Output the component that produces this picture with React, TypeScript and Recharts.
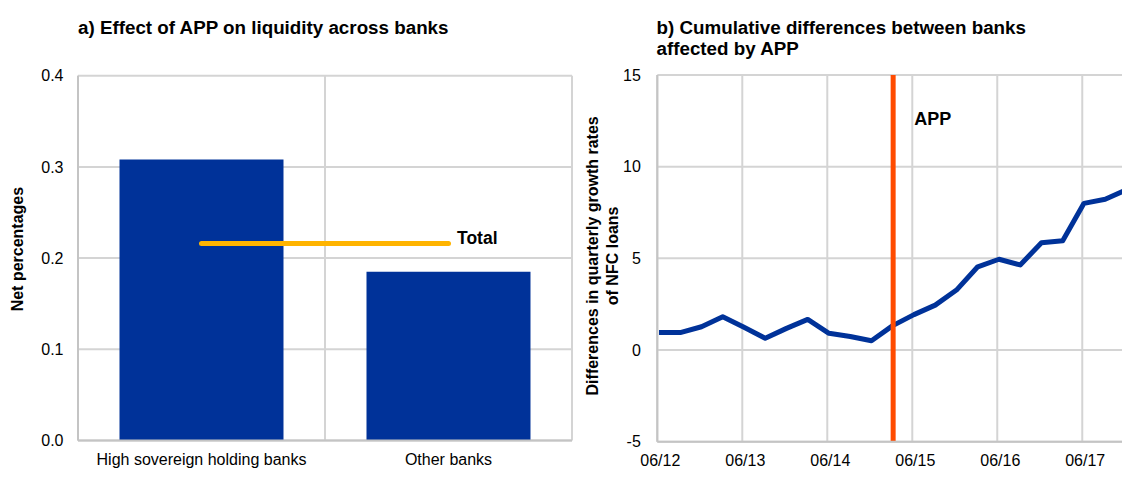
import React from 'react';
import {
  ComposedChart,
  LineChart,
  Bar,
  Line,
  XAxis,
  YAxis,
  CartesianGrid,
  ReferenceLine,
} from 'recharts';

const FONT = '"Liberation Sans", Arial, Helvetica, sans-serif';

// ---- Panel a) ----
const categories = ['High sovereign holding banks', 'Other banks'];
const netPercentages = [0.308, 0.185];
const totalValues = [0.216, 0.216];
const leftTicks = [0, 0.1, 0.2, 0.3, 0.4];

// ---- Panel b) ----
const quarters = [
  'Q2 2012', 'Q3 2012', 'Q4 2012', 'Q1 2013', 'Q2 2013', 'Q3 2013', 'Q4 2013',
  'Q1 2014', 'Q2 2014', 'Q3 2014', 'Q4 2014', 'Q1 2015', 'Q2 2015', 'Q3 2015',
  'Q4 2015', 'Q1 2016', 'Q2 2016', 'Q3 2016', 'Q4 2016', 'Q1 2017', 'Q2 2017',
  'Q3 2017', 'Q4 2017',
];
const cumulativeDiff = [
  0.96, 0.95, 1.27, 1.82, 1.24, 0.64, 1.18, 1.67, 0.91, 0.74, 0.51, 1.33,
  1.93, 2.45, 3.27, 4.54, 4.95, 4.64, 5.85, 5.96, 8.0, 8.22, 8.75,
];
const rightXTicks = [0, 4, 8, 12, 16, 20];
const rightXTickLabels = ['06/12', '06/13', '06/14', '06/15', '06/16', '06/17'];
const rightYTicks = [-5, 0, 5, 10, 15];
const appQuarter = 11.1;
const pointOffset = 0.08;

const BLUE = '#003299';
const YELLOW = '#FFB400';
const ORANGE = '#FF4B00';
const GRID = '#d4d4d4';
const AXIS = '#c4c4c4';

const leftData = categories.map((c, i) => ({
  category: c,
  value: netPercentages[i],
  total: totalValues[i],
}));

const rightData = quarters.map((q, i) => ({
  quarter: q,
  t: i + pointOffset,
  value: cumulativeDiff[i],
}));

const tickStyle = { fill: '#000', fontSize: 16, fontFamily: FONT };

const LeftYLabel = (props: any) => {
  const vb = props.viewBox || { x: 0, y: 0, width: 0, height: 0 };
  const x = vb.x + 5.4;
  const y = vb.y + vb.height / 2 - 9;
  return (
    <text
      x={x}
      y={y}
      transform={`rotate(-90, ${x}, ${y})`}
      textAnchor="middle"
      fontFamily={FONT}
      fontSize={16}
      fontWeight="bold"
      fill="#000"
    >
      Net percentages
    </text>
  );
};

const RightYLabel = (props: any) => {
  const vb = props.viewBox || { x: 0, y: 0, width: 0, height: 0 };
  const x1 = vb.x + 1.2;
  const x2 = vb.x + 20.7;
  const y = vb.y + vb.height / 2 - 2.5;
  return (
    <g>
      <text
        x={x1}
        y={y}
        transform={`rotate(-90, ${x1}, ${y})`}
        textAnchor="middle"
        fontFamily={FONT}
        fontSize={16}
        fontWeight="bold"
        fill="#000"
      >
        Differences in quarterly growth rates
      </text>
      <text
        x={x2}
        y={y}
        transform={`rotate(-90, ${x2}, ${y})`}
        textAnchor="middle"
        fontFamily={FONT}
        fontSize={16}
        fontWeight="bold"
        fill="#000"
      >
        of NFC loans
      </text>
    </g>
  );
};

const TotalLabel = (props: any) => {
  const { index } = props;
  if (index !== categories.length - 1) return <g />;
  const x = props.x ?? props.viewBox?.x;
  const y = props.y ?? props.viewBox?.y;
  return (
    <text
      x={x + 8.5}
      y={y}
      fontFamily={FONT}
      fontSize={17.5}
      fontWeight="bold"
      fill="#000"
    >
      Total
    </text>
  );
};

const AppLabel = (props: any) => {
  const vb = props.viewBox || { x: 0, y: 0 };
  return (
    <text
      x={vb.x + 21}
      y={vb.y + 50}
      fontFamily={FONT}
      fontSize={18}
      fontWeight="bold"
      fill="#000"
    >
      APP
    </text>
  );
};

const titleStyle: React.CSSProperties = {
  position: 'absolute',
  fontFamily: FONT,
  fontWeight: 'bold',
  fontSize: 18.8,
  lineHeight: '21px',
  color: '#000',
  whiteSpace: 'nowrap',
};

export default function App() {
  return (
    <div
      style={{
        position: 'absolute',
        left: 0,
        top: 0,
        width: 1122,
        height: 487,
        overflow: 'hidden',
        background: '#fff',
        fontFamily: FONT,
      }}
    >
      <div style={{ ...titleStyle, left: 78, top: 16.5 }}>
        a) Effect of APP on liquidity across banks
      </div>
      <div style={{ ...titleStyle, left: 656.5, top: 16.5 }}>
        b) Cumulative differences between banks
        <br />
        affected by APP
      </div>

      <div style={{ position: 'absolute', left: 0, top: 0 }}>
        <ComposedChart
          width={580}
          height={487}
          data={leftData}
          margin={{ top: 75.7, right: 8, bottom: 16.5, left: 18 }}
          barCategoryGap="16.8%"
        >
          <CartesianGrid
            stroke={GRID}
            strokeWidth={2}
            verticalCoordinatesGenerator={({ offset }: any) => [
              offset.left,
              offset.left + offset.width / 2,
              offset.left + offset.width,
            ]}
          />
          <XAxis
            dataKey="category"
            height={30}
            interval={0}
            tickLine={false}
            tickSize={0}
            tickMargin={13}
            axisLine={{ stroke: AXIS, strokeWidth: 2 }}
            tick={tickStyle}
          />
          <YAxis
            domain={[0, 0.4]}
            ticks={leftTicks}
            tickFormatter={(v: number) => v.toFixed(1)}
            width={60}
            tickLine={false}
            tickSize={0}
            tickMargin={14.5}
            axisLine={{ stroke: AXIS, strokeWidth: 2 }}
            tick={tickStyle}
            label={<LeftYLabel />}
          />
          <Bar dataKey="value" fill={BLUE} isAnimationActive={false} />
          <Line
            dataKey="total"
            type="linear"
            stroke={YELLOW}
            strokeWidth={5}
            strokeLinecap="round"
            dot={false}
            activeDot={false}
            isAnimationActive={false}
            label={<TotalLabel />}
          />
        </ComposedChart>
      </div>

      <div style={{ position: 'absolute', left: 580, top: 0 }}>
        <LineChart
          width={576}
          height={487}
          data={rightData}
          margin={{ top: 75, right: 10, bottom: 15.3, left: 17.3 }}
        >
          <CartesianGrid stroke={GRID} strokeWidth={2} />
          <XAxis
            type="number"
            dataKey="t"
            domain={[0, 23]}
            ticks={rightXTicks}
            tickFormatter={(v: number) => rightXTickLabels[rightXTicks.indexOf(v)]}
            allowDataOverflow
            height={30}
            tickLine={false}
            tickSize={0}
            tickMargin={13}
            axisLine={{ stroke: AXIS, strokeWidth: 2 }}
            tick={{ ...tickStyle, dx: 3 }}
          />
          <YAxis
            domain={[-5, 15]}
            ticks={rightYTicks}
            width={60}
            tickLine={false}
            tickSize={0}
            tickMargin={16.5}
            axisLine={{ stroke: AXIS, strokeWidth: 2 }}
            tick={tickStyle}
            label={<RightYLabel />}
          />
          <Line
            dataKey="value"
            type="linear"
            stroke={BLUE}
            strokeWidth={5}
            strokeLinejoin="round"
            dot={false}
            activeDot={false}
            isAnimationActive={false}
          />
          <ReferenceLine
            x={appQuarter}
            stroke={ORANGE}
            strokeWidth={5}
            label={<AppLabel />}
          />
        </LineChart>
      </div>
    </div>
  );
}
